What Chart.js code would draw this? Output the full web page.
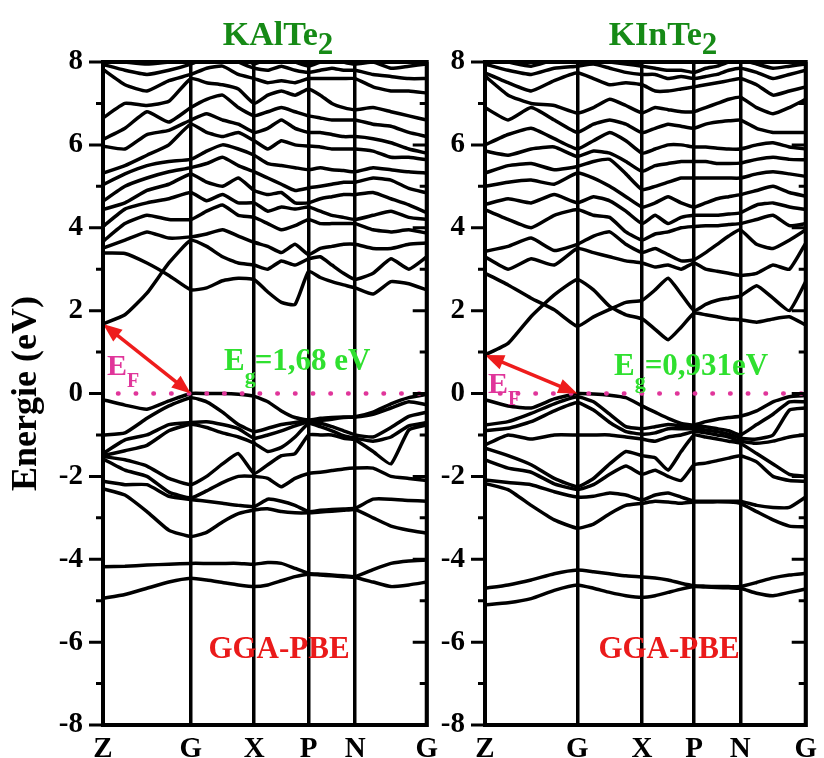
<!DOCTYPE html>
<html>
<head>
<meta charset="utf-8">
<script src="https://cdn.jsdelivr.net/npm/chart.js@4.4.1/dist/chart.umd.min.js"></script>
<style>
	html, body { margin: 0; padding: 0; background: #fff; }
	#wrap { position: relative; width: 824px; height: 758px; }
	#wrap > div { position: absolute; top: 0; height: 758px; }
	#boxKAlTe2 { left: 0; width: 445px; }
	#boxKInTe2 { left: 435px; width: 389px; }
</style>
</head>
<body>
<div id="wrap">
	<div id="boxKAlTe2"><canvas id="bandsKAlTe2"></canvas></div>
	<div id="boxKInTe2"><canvas id="bandsKInTe2"></canvas></div>
</div>
<script>
'use strict'

// high-symmetry path Z-G-X-P-N-G
const symLabels = ['Z', 'G', 'X', 'P', 'N', 'G'];
const symKAlTe2 = [0, 0.2713, 0.4670, 0.6352, 0.7789, 1];
const symKInTe2 = [0, 0.2878, 0.4898, 0.6520, 0.7959, 1];

// k-points along the path (4 steps per segment)
const kKAlTe2 = [0, 0.0678, 0.1357, 0.2035, 0.2713, 0.3202, 0.3692, 0.4181, 0.4670, 0.5091, 0.5511, 0.5932, 0.6352, 0.6711, 0.7071, 0.7430, 0.7789, 0.8342, 0.8895, 0.9447, 1];
const kKInTe2 = [0, 0.0720, 0.1439, 0.2159, 0.2878, 0.3383, 0.3888, 0.4393, 0.4898, 0.5304, 0.5709, 0.6115, 0.6520, 0.6880, 0.7240, 0.7599, 0.7959, 0.8469, 0.8980, 0.9490, 1];

// band gaps (eV), indirect Z -> G
const gapKAlTe2 = 1.68;
const gapKInTe2 = 0.931;

// energies (eV) at each k-point, one row per k, one column per band
const semicoreKAlTe2 = [
	[-4.94, -4.18], [-4.85, -4.17], [-4.70, -4.14], [-4.55, -4.12], [-4.46, -4.10],
	[-4.50, -4.10], [-4.56, -4.10], [-4.62, -4.10], [-4.66, -4.12],
	[-4.62, -4.08], [-4.52, -4.10], [-4.42, -4.22], [-4.36, -4.34],
	[-4.38, -4.36], [-4.40, -4.38], [-4.42, -4.40], [-4.44, -4.42],
	[-4.55, -4.25], [-4.66, -4.10], [-4.62, -4.04], [-4.55, -4.02]
];
const valenceKAlTe2 = [
	[-0.15, -1.00, -1.45, -1.50, -1.52, -1.58, -2.12, -2.30],
	[-0.28, -0.95, -1.12, -1.38, -1.60, -1.85, -2.20, -2.45],
	[-0.38, -0.60, -1.00, -1.25, -1.75, -2.00, -2.20, -2.85],
	[-0.18, -0.30, -0.75, -0.90, -2.05, -2.38, -2.48, -3.30],
	[0.00, -0.10, -0.70, -0.74, -2.20, -2.52, -2.56, -3.45],
	[0.00, -0.20, -0.68, -0.82, -2.00, -2.35, -2.60, -3.35],
	[0.00, -0.45, -0.75, -0.95, -1.70, -2.15, -2.65, -3.10],
	[-0.02, -0.75, -0.85, -1.05, -1.45, -2.00, -2.70, -2.90],
	[-0.07, -0.92, -1.08, -1.20, -1.93, -2.00, -2.73, -2.81],
	[-0.20, -0.84, -1.00, -1.40, -1.72, -2.05, -2.55, -2.78],
	[-0.42, -0.75, -0.90, -1.30, -1.50, -2.25, -2.60, -2.85],
	[-0.58, -0.70, -0.78, -1.05, -1.45, -2.05, -2.70, -2.88],
	[-0.64, -0.66, -0.68, -0.72, -1.00, -1.93, -2.85, -2.88],
	[-0.60, -0.65, -0.72, -0.80, -1.00, -1.90, -2.82, -2.86],
	[-0.58, -0.62, -0.80, -0.90, -1.00, -1.86, -2.80, -2.84],
	[-0.57, -0.58, -0.90, -1.02, -1.08, -1.82, -2.79, -2.82],
	[-0.56, -0.57, -1.00, -1.08, -1.12, -1.80, -2.77, -2.80],
	[-0.45, -0.50, -1.05, -1.15, -1.40, -1.80, -2.55, -3.00],
	[-0.25, -0.35, -0.82, -1.05, -1.70, -2.00, -2.55, -3.20],
	[-0.10, -0.20, -0.55, -0.78, -0.88, -2.05, -2.58, -3.30],
	[-0.02, -0.27, -0.45, -0.70, -0.76, -2.10, -2.60, -3.37]
];
const conductionKAlTe2 = [
	[3.39, gapKAlTe2, 3.51, 3.67, 4.03, 4.44, 4.64, 5.04, 5.32, 5.97, 6.13, 6.65, 7.82, 7.94, 8.05],
	[3.38, 1.90, 3.70, 4.10, 4.45, 4.60, 5.00, 5.30, 5.50, 5.90, 6.40, 7.00, 7.45, 7.80, 8.00],
	[3.15, 2.42, 3.90, 4.30, 4.60, 4.90, 5.20, 5.50, 5.75, 6.25, 6.80, 6.95, 7.30, 7.70, 7.95],
	[2.85, 3.15, 3.75, 4.20, 4.70, 5.05, 5.35, 5.60, 6.00, 6.35, 6.55, 7.05, 7.55, 7.80, 8.00],
	[2.50, 3.70, 3.78, 4.20, 4.85, 5.30, 5.45, 5.65, 6.50, 6.60, 6.90, 7.60, 7.70, 7.95, 8.05],
	[2.55, 3.55, 3.85, 4.40, 4.65, 5.10, 5.55, 5.85, 6.30, 6.75, 7.10, 7.50, 7.85, 8.10, 8.30],
	[2.72, 3.30, 3.95, 4.55, 4.80, 5.00, 5.70, 6.00, 6.20, 6.60, 7.20, 7.45, 7.90, 8.20, 8.40],
	[2.78, 3.15, 3.80, 4.30, 4.60, 5.20, 5.50, 5.90, 6.30, 6.50, 6.90, 7.35, 7.70, 8.00, 8.20],
	[2.75, 3.10, 3.65, 4.25, 4.60, 4.90, 5.35, 5.75, 6.10, 6.30, 6.70, 7.00, 7.60, 7.85, 7.95],
	[2.45, 3.00, 3.55, 4.10, 4.40, 4.80, 5.20, 5.55, 5.90, 6.40, 6.80, 7.20, 7.50, 7.80, 8.10],
	[2.20, 3.20, 3.40, 3.95, 4.50, 4.85, 5.05, 5.50, 6.10, 6.60, 6.90, 7.30, 7.55, 7.90, 8.20],
	[2.15, 3.10, 3.60, 4.05, 4.45, 4.60, 4.90, 5.45, 6.00, 6.40, 6.80, 7.20, 7.50, 7.80, 8.00],
	[2.95, 3.25, 3.35, 4.20, 4.50, 4.60, 4.96, 5.40, 5.97, 6.30, 6.70, 7.35, 7.60, 7.75, 7.90],
	[2.80, 3.30, 3.50, 4.10, 4.40, 4.70, 5.00, 5.45, 5.95, 6.30, 6.65, 7.20, 7.60, 7.80, 8.00],
	[2.70, 3.10, 3.55, 4.10, 4.30, 4.75, 5.05, 5.40, 5.90, 6.25, 6.60, 7.00, 7.60, 7.85, 8.10],
	[2.62, 2.90, 3.60, 4.10, 4.25, 4.80, 5.10, 5.38, 5.90, 6.20, 6.60, 6.90, 7.60, 7.80, 8.00],
	[2.55, 2.75, 3.60, 4.10, 4.20, 4.80, 5.10, 5.35, 5.90, 6.20, 6.60, 6.85, 7.60, 7.80, 7.95],
	[2.40, 2.90, 3.50, 3.95, 4.30, 4.85, 5.20, 5.45, 5.85, 6.15, 6.50, 6.90, 7.40, 7.70, 8.00],
	[2.70, 3.25, 3.50, 3.90, 4.40, 4.70, 5.15, 5.40, 5.70, 6.05, 6.45, 6.80, 7.30, 7.65, 7.85],
	[2.65, 3.00, 3.60, 3.95, 4.25, 4.55, 4.95, 5.35, 5.70, 5.90, 6.30, 6.70, 7.30, 7.60, 7.90],
	[2.50, 3.30, 3.63, 3.87, 4.20, 4.36, 4.84, 5.32, 5.64, 5.80, 6.20, 6.60, 7.25, 7.60, 7.95]
];

const semicoreKInTe2 = [
	[-5.10, -4.70], [-5.05, -4.62], [-4.95, -4.50], [-4.75, -4.35], [-4.62, -4.26],
	[-4.70, -4.30], [-4.80, -4.35], [-4.88, -4.40], [-4.92, -4.43],
	[-4.88, -4.45], [-4.80, -4.50], [-4.72, -4.58], [-4.66, -4.64],
	[-4.67, -4.65], [-4.68, -4.66], [-4.69, -4.66], [-4.70, -4.66],
	[-4.82, -4.56], [-4.88, -4.45], [-4.80, -4.38], [-4.72, -4.34]
];
const valenceKInTe2 = [
	[-0.15, -0.76, -0.90, -1.24, -1.32, -1.60, -2.09, -2.17],
	[-0.30, -0.68, -0.84, -1.00, -1.50, -1.80, -2.15, -2.32],
	[-0.35, -0.48, -0.68, -1.10, -1.72, -1.90, -2.20, -2.70],
	[-0.13, -0.25, -0.42, -1.00, -2.05, -2.18, -2.37, -3.05],
	[0.00, -0.08, -0.22, -1.00, -2.25, -2.32, -2.50, -3.25],
	[-0.01, -0.20, -0.40, -1.00, -2.05, -2.20, -2.48, -3.15],
	[-0.04, -0.50, -0.70, -1.00, -1.70, -1.95, -2.40, -2.90],
	[-0.10, -0.80, -0.92, -1.05, -1.40, -1.75, -2.45, -2.70],
	[-0.30, -0.85, -0.98, -1.10, -1.50, -1.95, -2.57, -2.65],
	[-0.45, -0.80, -0.95, -1.15, -1.55, -1.85, -2.45, -2.60],
	[-0.60, -0.75, -0.85, -1.05, -1.85, -2.00, -2.40, -2.62],
	[-0.72, -0.78, -0.85, -1.00, -1.40, -2.10, -2.50, -2.65],
	[-0.76, -0.80, -0.85, -0.92, -1.00, -1.72, -2.60, -2.62],
	[-0.68, -0.80, -0.88, -0.95, -1.05, -1.68, -2.60, -2.62],
	[-0.62, -0.85, -0.92, -1.00, -1.10, -1.62, -2.60, -2.61],
	[-0.58, -0.90, -0.98, -1.05, -1.15, -1.56, -2.60, -2.62],
	[-0.55, -1.00, -1.08, -1.15, -1.20, -1.50, -2.60, -2.65],
	[-0.42, -0.75, -1.10, -1.20, -1.45, -1.65, -2.70, -2.85],
	[-0.20, -0.50, -1.00, -1.15, -1.70, -2.00, -2.75, -3.05],
	[-0.08, -0.20, -0.40, -1.05, -1.95, -2.10, -2.75, -3.20],
	[-0.05, -0.20, -0.35, -1.00, -2.00, -2.12, -2.50, -3.22]
];
const conductionKInTe2 = [
	[2.90, gapKInTe2, 3.30, 3.43, 4.44, 4.56, 5.00, 5.32, 5.85, 6.00, 6.90, 7.66, 7.74, 7.95, 8.10],
	[2.62, 1.21, 3.00, 3.55, 4.20, 4.70, 5.10, 5.50, 5.75, 6.25, 6.60, 7.20, 7.50, 7.80, 8.00],
	[2.30, 1.86, 3.25, 3.75, 4.00, 4.60, 5.15, 5.55, 5.90, 6.40, 6.90, 7.00, 7.30, 7.70, 7.90],
	[2.02, 2.38, 3.10, 3.45, 4.30, 4.80, 5.05, 5.40, 5.95, 6.15, 6.60, 6.95, 7.55, 7.85, 8.05],
	[1.62, 2.75, 3.50, 3.60, 4.44, 4.60, 5.32, 5.48, 5.72, 5.90, 6.30, 6.77, 7.74, 7.90, 8.10],
	[1.85, 2.50, 3.40, 3.80, 4.30, 4.75, 5.20, 5.60, 5.85, 6.10, 6.50, 6.90, 7.60, 7.95, 8.05],
	[2.03, 2.10, 3.30, 3.90, 4.25, 4.65, 5.00, 5.65, 5.80, 6.30, 6.60, 7.10, 7.45, 7.85, 8.00],
	[2.20, 1.90, 3.20, 3.60, 3.90, 4.40, 4.75, 5.30, 5.60, 6.10, 6.50, 6.95, 7.50, 7.75, 7.95],
	[2.25, 1.80, 3.15, 3.40, 3.70, 4.10, 4.50, 4.92, 5.36, 5.80, 6.29, 6.77, 7.45, 7.70, 7.90],
	[2.50, 1.55, 3.05, 3.50, 3.85, 4.30, 4.60, 5.00, 5.50, 5.90, 6.40, 6.90, 7.30, 7.70, 7.85],
	[2.78, 1.30, 3.10, 3.35, 3.90, 4.10, 4.75, 5.10, 5.55, 6.00, 6.50, 6.85, 7.30, 7.60, 7.80],
	[2.40, 1.60, 3.00, 3.20, 4.00, 4.25, 4.60, 5.20, 5.60, 6.00, 6.45, 6.80, 7.35, 7.65, 7.80],
	[2.00, 1.94, 3.15, 3.23, 4.03, 4.30, 4.50, 5.20, 5.60, 5.95, 6.40, 6.80, 7.40, 7.60, 7.75],
	[2.15, 1.90, 3.00, 3.40, 4.05, 4.30, 4.60, 5.20, 5.60, 5.95, 6.50, 6.90, 7.45, 7.65, 7.85],
	[2.25, 1.85, 2.95, 3.60, 4.05, 4.30, 4.70, 5.20, 5.55, 5.92, 6.55, 7.00, 7.50, 7.70, 7.90],
	[2.30, 1.80, 2.90, 3.80, 4.08, 4.33, 4.75, 5.20, 5.55, 5.90, 6.58, 7.10, 7.55, 7.80, 8.00],
	[2.35, 1.78, 2.85, 3.95, 4.10, 4.36, 4.80, 5.20, 5.56, 5.90, 6.60, 7.15, 7.60, 7.85, 8.05],
	[2.60, 1.72, 2.90, 3.60, 4.20, 4.55, 4.90, 5.30, 5.65, 6.00, 6.40, 6.90, 7.45, 7.75, 7.95],
	[2.30, 1.80, 3.10, 3.50, 4.30, 4.60, 5.00, 5.35, 5.70, 6.05, 6.30, 6.75, 7.20, 7.60, 7.85],
	[2.00, 1.85, 3.00, 3.70, 4.05, 4.50, 4.85, 5.30, 5.65, 5.95, 6.30, 6.90, 7.30, 7.70, 7.90],
	[2.70, 1.65, 3.63, 3.95, 4.10, 4.44, 4.76, 5.24, 5.64, 5.90, 6.30, 7.10, 7.40, 7.80, 7.95]
];

const FONT = '"Liberation Serif", "Times New Roman", serif';

// one line dataset per band, taken column by column from the k rows
function bandsFromRows(k, rows) {
	const out = [];
	for (let j = 0; j < rows[0].length; j++) {
		out.push({
			data: rows.map((r, i) => ({ x: k[i], y: r[j] })),
			borderColor: '#000',
			borderWidth: 3.5,
			pointRadius: 0,
			tension: 0.15,
			fill: false,
			order: 2,
		});
	}
	return out;
}

function textSub(ctx, x, y, main, sub, size, subSize, drop, color, center) {
	ctx.font = `bold ${size}px ${FONT}`;
	const w1 = ctx.measureText(main).width;
	ctx.font = `bold ${subSize}px ${FONT}`;
	const w2 = ctx.measureText(sub).width;
	const x0 = center ? x - (w1 + w2) / 2 : x;
	ctx.fillStyle = color;
	ctx.textAlign = 'left';
	ctx.textBaseline = 'alphabetic';
	ctx.font = `bold ${size}px ${FONT}`;
	ctx.fillText(main, x0, y);
	ctx.font = `bold ${subSize}px ${FONT}`;
	ctx.fillText(sub, x0 + w1, y + drop);
	return x0 + w1 + w2;
}

function arrowHead(ctx, fx, fy, tx, ty, len, half) {
	const a = Math.atan2(ty - fy, tx - fx);
	const c = Math.cos(a), s = Math.sin(a);
	ctx.beginPath();
	ctx.moveTo(tx, ty);
	ctx.lineTo(tx - len * c + half * s, ty - len * s - half * c);
	ctx.lineTo(tx - len * c - half * s, ty - len * s + half * c);
	ctx.closePath();
	ctx.fill();
}

function decor(cfg) {
	return {
		id: 'decor',
		afterDatasetsDraw(chart) {
			const { ctx, scales: { x, y } } = chart;
			ctx.save();

			// gap arrow from the CBM at Z to the VBM at G
			const x0 = x.getPixelForValue(cfg.sym[0]), y0 = y.getPixelForValue(cfg.gap);
			const x1 = x.getPixelForValue(cfg.sym[1]), y1 = y.getPixelForValue(0);
			const len = Math.hypot(x1 - x0, y1 - y0), ux = (x1 - x0) / len, uy = (y1 - y0) / len;
			ctx.strokeStyle = '#ee1c1c';
			ctx.fillStyle = '#ee1c1c';
			ctx.lineWidth = 3.5;
			ctx.beginPath();
			ctx.moveTo(x0 + ux * 14, y0 + uy * 14);
			ctx.lineTo(x1 - ux * 14, y1 - uy * 14);
			ctx.stroke();
			arrowHead(ctx, x1, y1, x0, y0, 19, 7.5);
			arrowHead(ctx, x0, y0, x1, y1, 19, 7.5);

			// labels inside the frame
			const t = cfg.text;
			textSub(ctx, t.ef[0], t.ef[1], 'E', 'F', 30, 20, 12, '#e0359a', false);
			const end = textSub(ctx, t.eg[0], t.eg[1], 'E', 'g', 31, 22, 13, '#2fe02f', false);
			ctx.font = `bold 31px ${FONT}`;
			ctx.fillText(cfg.gapText, end - 1, t.eg[1]);
			ctx.fillStyle = '#ea1a1a';
			ctx.font = `bold 31px ${FONT}`;
			ctx.textAlign = 'center';
			ctx.fillText('GGA-PBE', t.xc[0], t.xc[1]);
			ctx.restore();
		},
		afterDraw(chart) {
			const { ctx, chartArea: a, scales: { y } } = chart;
			ctx.save();
			ctx.strokeStyle = '#000';
			ctx.lineWidth = 3;
			// energy ticks: outward on the left, inward on the right
			for (let v = -8; v <= 8; v++) {
				const py = y.getPixelForValue(v);
				const tl = v % 2 === 0 ? 14 : 7;
				ctx.beginPath();
				ctx.moveTo(a.left - tl, py);
				ctx.lineTo(a.left, py);
				ctx.moveTo(a.right - tl, py);
				ctx.lineTo(a.right, py);
				ctx.stroke();
			}
			ctx.lineWidth = 4;
			ctx.strokeRect(a.left, a.top, a.right - a.left, a.bottom - a.top);

			// compound name
			textSub(ctx, cfg.text.title[0], cfg.text.title[1], cfg.name, '2', 34, 31, 9, '#168a16', true);

			if (cfg.yTitle) {
				ctx.translate(27, (a.top + a.bottom) / 2);
				ctx.rotate(-Math.PI / 2);
				ctx.fillStyle = '#000';
				ctx.font = `bold 36px ${FONT}`;
				ctx.textAlign = 'center';
				ctx.textBaseline = 'middle';
				ctx.fillText('Energie (eV)', 0, 0);
			}
			ctx.restore();
		},
	};
}

function bandChart(id, cfg) {
	const fermi = {
		data: [{ x: 0, y: 0 }, { x: 1, y: 0 }],
		borderColor: '#e0359a',
		borderWidth: 4.5,
		borderDash: [0.5, 17.2],
		borderDashOffset: 2.7,
		borderCapStyle: 'round',
		pointRadius: 0,
		order: 0,
	};
	const datasets = [fermi]
		.concat(bandsFromRows(cfg.k, cfg.semicore))
		.concat(bandsFromRows(cfg.k, cfg.valence))
		.concat(bandsFromRows(cfg.k, cfg.conduction));

	const tickFont = { family: FONT, size: 29, weight: 'bold' };

	return new Chart(document.getElementById(id), {
		type: 'line',
		data: { datasets: datasets },
		options: {
			animation: false,
			responsive: true,
			maintainAspectRatio: false,
			events: [],
			layout: { padding: { top: 62, right: cfg.padRight, bottom: 0, left: 0 } },
			plugins: { legend: { display: false }, tooltip: { enabled: false } },
			scales: {
				x: {
					type: 'linear',
					min: 0,
					max: 1,
					afterBuildTicks: (s) => { s.ticks = cfg.sym.map((v) => ({ value: v })); },
					afterFit: (s) => { s.height = 33; },
					grid: { color: '#000', lineWidth: 3.5, drawTicks: false },
					border: { color: '#000', width: 4 },
					ticks: {
						autoSkip: false,
						maxRotation: 0,
						padding: 7,
						color: '#000',
						font: tickFont,
						callback: (v, i) => symLabels[i],
					},
				},
				y: {
					min: -8,
					max: 8,
					afterFit: (s) => { s.width = cfg.axisWidth; },
					grid: { drawOnChartArea: false, tickLength: 14, tickColor: 'rgba(0,0,0,0)' },
					border: { color: '#000', width: 4 },
					ticks: {
						stepSize: 1,
						autoSkip: false,
						padding: 6,
						color: '#000',
						font: tickFont,
						callback: (v) => (v % 2 === 0 ? String(v) : ''),
					},
				},
			},
		},
		plugins: [decor(cfg)],
	});
}

bandChart('bandsKAlTe2', {
	name: 'KAlTe',
	k: kKAlTe2,
	sym: symKAlTe2,
	gap: gapKAlTe2,
	gapText: '=' + gapKAlTe2.toFixed(2).replace('.', ',') + ' eV',
	semicore: semicoreKAlTe2,
	valence: valenceKAlTe2,
	conduction: conductionKAlTe2,
	axisWidth: 103,
	padRight: 15,
	yTitle: true,
	text: { title: [278, 45], ef: [107, 375], eg: [224, 370], xc: [279, 658] },
});

bandChart('bandsKInTe2', {
	name: 'KInTe',
	k: kKInTe2,
	sym: symKInTe2,
	gap: gapKInTe2,
	gapText: '=' + gapKInTe2.toFixed(3).replace('.', ',') + 'eV',
	semicore: semicoreKInTe2,
	valence: valenceKInTe2,
	conduction: conductionKInTe2,
	axisWidth: 50,
	padRight: 12,
	yTitle: false,
	text: { title: [228, 45], ef: [53, 393], eg: [179, 375], xc: [234, 658] },
});
</script>
</body>
</html>
